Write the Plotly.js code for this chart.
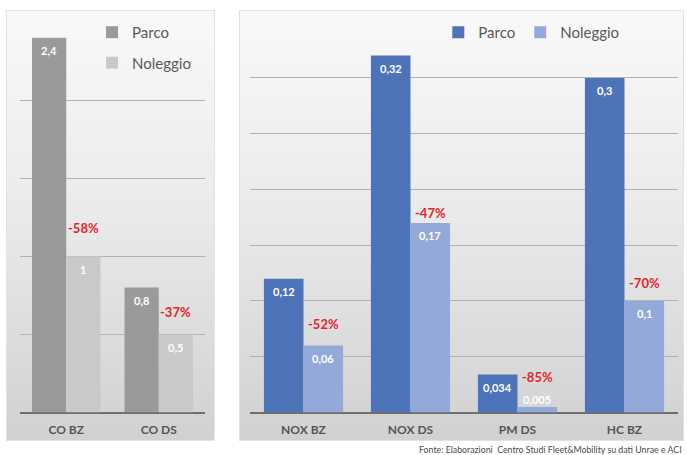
<!DOCTYPE html>
<html>
<head>
<meta charset="utf-8">
<script src="https://cdn.plot.ly/plotly-3.0.1.min.js"></script>
<style>
  html, body { margin: 0; padding: 0; background: #ffffff; }
  #wrap { position: relative; width: 687px; height: 455px; overflow: hidden; }
  .panel { position: absolute; box-sizing: border-box; border: 1px solid #e2e2e2;
           background: linear-gradient(to bottom, #f9f9f9 0%, #ebebeb 45%, #d1d1d1 100%); }
  #p1 { left: 6px; top: 10px; width: 209px; height: 431px; }
  #p2 { left: 239px; top: 10px; width: 445px; height: 431px; }
  #chart { position: absolute; left: 0; top: 0; width: 687px; height: 455px; }
</style>
</head>
<body>
<div id="wrap">
  <div class="panel" id="p1"></div>
  <div class="panel" id="p2"></div>
  <div id="chart"></div>
</div>
<script>
// ---- data ----
const seriesNames = ['Parco', 'Noleggio'];
const leftCats = ['CO BZ', 'CO DS'];
const leftParco = [2.4, 0.8];
const leftNoleggio = [1, 0.5];
const leftPct = ['-58%', '-37%'];
const rightCats = ['NOX BZ', 'NOX DS', 'PM DS', 'HC BZ'];
const rightParco = [0.12, 0.32, 0.034, 0.3];
const rightNoleggio = [0.06, 0.17, 0.005, 0.1];
const rightPct = ['-52%', '-47%', '-85%', '-70%'];
const sourceText = 'Fonte: Elaborazioni  Centro Studi Fleet&Mobility su dati Unrae e ACI';

// ---- styling ----
const FONT = "Lato, 'Open Sans', 'DejaVu Sans', sans-serif";
const BARGAP = 0.26;
const colors = {
  leftParco: '#9a9a9a', leftNol: '#c9c9c9',
  rightParco: '#4d73b8', rightNol: '#93a9d9'
};
const fmt = v => String(v).replace('.', ',');

const traces = [
  { type: 'bar', name: seriesNames[0], x: leftCats, y: leftParco, xaxis: 'x', yaxis: 'y',
    marker: { color: colors.leftParco }, legend: 'legend', legendgroup: 'lp', hoverinfo: 'x+y' },
  { type: 'bar', name: seriesNames[1], x: leftCats, y: leftNoleggio, xaxis: 'x', yaxis: 'y',
    marker: { color: colors.leftNol }, legend: 'legend', legendgroup: 'ln', hoverinfo: 'x+y' },
  { type: 'bar', name: seriesNames[0], x: rightCats, y: rightParco, xaxis: 'x2', yaxis: 'y2',
    marker: { color: colors.rightParco }, legend: 'legend2', hoverinfo: 'x+y' },
  { type: 'bar', name: seriesNames[1], x: rightCats, y: rightNoleggio, xaxis: 'x2', yaxis: 'y2',
    marker: { color: colors.rightNol }, legend: 'legend2', hoverinfo: 'x+y' }
];

const off = (1 - BARGAP) / 4;
const annotations = [];
function valueLabels(vals, xa, ya, sign, shifts) {
  vals.forEach((v, i) => {
    annotations.push({
      xref: xa, yref: ya, x: i + sign * off, y: v, text: fmt(v), showarrow: false,
      yanchor: 'middle', yshift: shifts ? shifts[i] : -13,
      font: { family: FONT, size: 11, color: '#ffffff', weight: 'bold' }
    });
  });
}
valueLabels(leftParco, 'x', 'y', -1);
valueLabels(leftNoleggio, 'x', 'y', 1);
valueLabels(rightParco, 'x2', 'y2', -1);
valueLabels(rightNoleggio, 'x2', 'y2', 1, [-13, -13, 7, -13]);

function pctLabels(pcts, vals, xa, ya, shifts) {
  pcts.forEach((p, i) => {
    annotations.push({
      xref: xa, yref: ya, x: i + off, y: vals[i], text: p, showarrow: false,
      yanchor: 'middle', yshift: shifts[i],
      font: { family: FONT, size: 13, color: '#e3242b', weight: 'bold' }
    });
  });
}
pctLabels(leftPct, leftNoleggio, 'x', 'y', [28, 22]);
pctLabels(rightPct, rightNoleggio, 'x2', 'y2', [22, 10, 30, 18]);

annotations.push({
  xref: 'paper', yref: 'paper', x: 0.996, y: 0.011, xanchor: 'right', yanchor: 'middle',
  text: sourceText, showarrow: false,
  font: { family: FONT, size: 8.8, color: '#4a4a4a' }
});

const yDom = [0.0934, 0.9516];
const catAxis = {
  type: 'category', showgrid: false, showline: false, ticks: '', zeroline: false,
  ticklabelstandoff: 8, fixedrange: true,
  tickfont: { family: FONT, size: 12, color: '#555555', weight: 'bold' }
};
const valAxis = {
  showticklabels: false, ticks: '', showline: false, fixedrange: true,
  showgrid: true, gridcolor: '#b2b2b2', gridwidth: 1,
  zeroline: true, zerolinecolor: '#6e6e6e', zerolinewidth: 2, tick0: 0
};

const layout = {
  width: 687, height: 455,
  margin: { l: 0, r: 0, t: 0, b: 0 },
  paper_bgcolor: 'rgba(0,0,0,0)', plot_bgcolor: 'rgba(0,0,0,0)',
  font: { family: FONT, color: '#595959' },
  barmode: 'group', bargap: BARGAP, bargroupgap: 0,
  xaxis: Object.assign({}, catAxis, { domain: [0.0291, 0.2984], anchor: 'y' }),
  yaxis: Object.assign({}, valAxis, { domain: yDom, anchor: 'x', range: [0, 2.5001], dtick: 0.5 }),
  xaxis2: Object.assign({}, catAxis, { domain: [0.3639, 0.9869], anchor: 'y2' }),
  yaxis2: Object.assign({}, valAxis, { domain: yDom, anchor: 'x2', range: [0, 0.3501], dtick: 0.05 }),
  legend: {
    x: 0.134, y: 0.965, xanchor: 'left', yanchor: 'top', orientation: 'v',
    bgcolor: 'rgba(0,0,0,0)', tracegroupgap: 8,
    font: { family: FONT, size: 15, color: '#595959' }
  },
  legend2: {
    x: 0.638, y: 0.965, xanchor: 'left', yanchor: 'top', orientation: 'h',
    bgcolor: 'rgba(0,0,0,0)',
    font: { family: FONT, size: 15, color: '#595959' }
  },
  annotations: annotations,
  showlegend: true
};

Plotly.newPlot('chart', traces, layout, { displayModeBar: false, staticPlot: true });
</script>
</body>
</html>
